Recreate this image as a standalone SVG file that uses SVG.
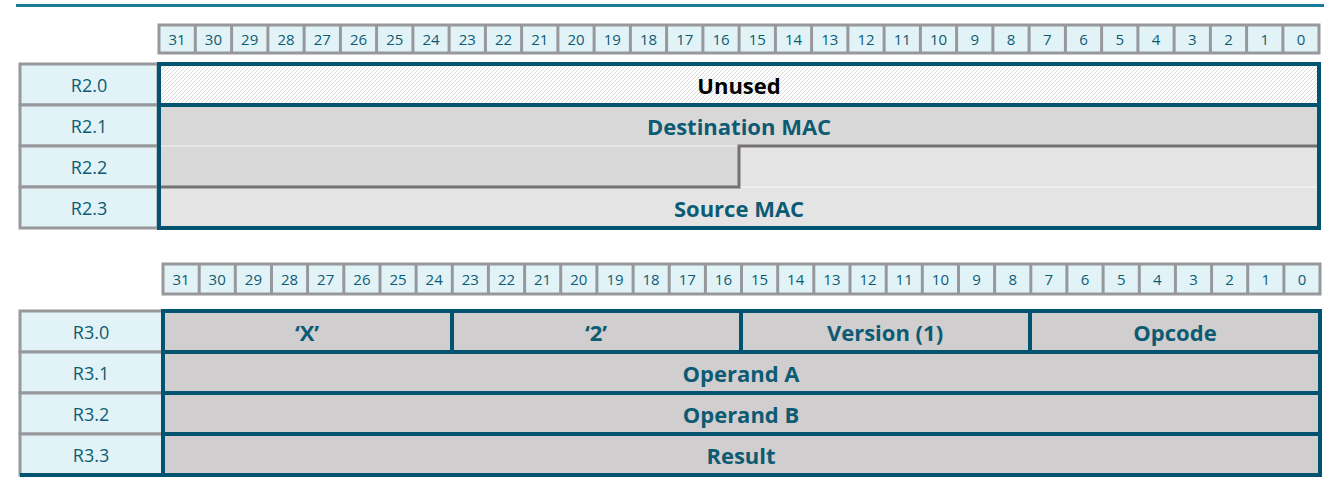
<svg xmlns="http://www.w3.org/2000/svg" width="1340" height="493" viewBox="0 0 1340 493">
<style>
.bit{fill:#e2f3f8;stroke:#97989b;stroke-width:3}
.bt{font-family:"Open Sans",sans-serif;font-size:15px;fill:#0d5b73;text-anchor:middle}
.lab{fill:#e2f3f8;stroke:#97989b;stroke-width:3}
.lt{font-family:"Open Sans",sans-serif;font-size:18px;fill:#0d5b73;text-anchor:middle}
.ft{font-family:"Open Sans",sans-serif;font-size:22px;font-weight:bold;fill:#0d5b73;text-anchor:middle}
.blue{fill:none;stroke:#005470;stroke-width:4}
</style>
<defs>
<pattern id="hatch" width="4" height="4" patternUnits="userSpaceOnUse">
<rect width="4" height="4" fill="#ffffff"/>
<path d="M0,4 L4,0 M-1,1 L1,-1 M3,5 L5,3" stroke="#cfcfcf" stroke-width="0.8"/>
</pattern>
</defs>
<line x1="16" y1="5.5" x2="1324" y2="5.5" stroke="#1a7a99" stroke-width="3"/>
<g id="header1">
<rect class="bit" x="159" y="25" width="1160" height="28"/>
<g id="h1cells"></g>
</g>
<g id="header1-text">
<g stroke="#97989b" stroke-width="3">
<path d="M195.3,25V53M231.6,25V53M267.9,25V53M304.1,25V53M340.4,25V53M376.6,25V53M412.9,25V53M449.1,25V53M485.4,25V53M521.6,25V53M557.9,25V53M594.1,25V53M630.4,25V53M666.6,25V53M702.9,25V53M739.1,25V53M775.4,25V53M811.6,25V53M847.9,25V53M884.1,25V53M920.4,25V53M956.6,25V53M992.9,25V53M1029.1,25V53M1065.4,25V53M1101.6,25V53M1137.9,25V53M1174.1,25V53M1210.4,25V53M1246.6,25V53M1282.9,25V53"/>
</g>
<g class="bt">
<text x="177.1" y="45">31</text><text x="213.4" y="45">30</text><text x="249.7" y="45">29</text><text x="286" y="45">28</text><text x="322.3" y="45">27</text><text x="358.5" y="45">26</text><text x="394.8" y="45">25</text><text x="431" y="45">24</text><text x="467.3" y="45">23</text><text x="503.5" y="45">22</text><text x="539.8" y="45">21</text><text x="576" y="45">20</text><text x="612.3" y="45">19</text><text x="648.5" y="45">18</text><text x="684.8" y="45">17</text><text x="721" y="45">16</text><text x="757.3" y="45">15</text><text x="793.5" y="45">14</text><text x="829.8" y="45">13</text><text x="866" y="45">12</text><text x="902.3" y="45">11</text><text x="938.5" y="45">10</text><text x="974.8" y="45">9</text><text x="1011" y="45">8</text><text x="1047.3" y="45">7</text><text x="1083.5" y="45">6</text><text x="1119.8" y="45">5</text><text x="1156" y="45">4</text><text x="1192.3" y="45">3</text><text x="1228.5" y="45">2</text><text x="1264.8" y="45">1</text><text x="1301" y="45">0</text>
</g>
</g>
<g id="R2-labels">
<rect class="lab" x="20" y="64" width="138" height="41"/>
<rect class="lab" x="20" y="105" width="138" height="41"/>
<rect class="lab" x="20" y="146" width="138" height="41"/>
<rect class="lab" x="20" y="187" width="138" height="41"/>
<text class="lt" x="89" y="92">R2.0</text>
<text class="lt" x="89" y="133">R2.1</text>
<text class="lt" x="89" y="174">R2.2</text>
<text class="lt" x="89" y="215">R2.3</text>
</g>
<g id="R2-fields">
<rect x="159" y="64" width="1160" height="41" fill="url(#hatch)"/>
<rect x="159" y="105" width="1160" height="41" fill="#d8d8d8"/>
<rect x="159" y="146" width="580" height="41" fill="#d8d8d8"/>
<rect x="739" y="146" width="580" height="41" fill="#e4e4e4"/>
<rect x="159" y="187" width="1160" height="41" fill="#e4e4e4"/>
<line x1="159" y1="146" x2="739" y2="146" stroke="#f0f0f0" stroke-width="1"/>
<line x1="739" y1="187" x2="1319" y2="187" stroke="#f8f8f8" stroke-width="1"/>
<path d="M159,187H739V146H1319" fill="none" stroke="#767171" stroke-width="3"/>
<line x1="159" y1="105" x2="1319" y2="105" stroke="#005470" stroke-width="4"/>
<rect class="blue" x="159" y="64" width="1160" height="164"/>
<text class="ft" x="739" y="94" fill="#000" style="fill:#000">Unused</text>
<text class="ft" x="739" y="135">Destination MAC</text>
<text class="ft" x="739" y="217">Source MAC</text>
</g>
<g id="header2">
<rect class="bit" x="163" y="264" width="1157" height="30"/>
<g stroke="#97989b" stroke-width="3">
<path d="M199.2,264V294M235.3,264V294M271.5,264V294M307.6,264V294M343.8,264V294M380,264V294M416.1,264V294M452.3,264V294M488.4,264V294M524.6,264V294M560.7,264V294M596.9,264V294M633.1,264V294M669.2,264V294M705.4,264V294M741.5,264V294M777.7,264V294M813.8,264V294M850,264V294M886.2,264V294M922.3,264V294M958.5,264V294M994.6,264V294M1030.8,264V294M1066.9,264V294M1103.1,264V294M1139.3,264V294M1175.4,264V294M1211.6,264V294M1247.7,264V294M1283.9,264V294"/>
</g>
<g class="bt">
<text x="181.1" y="285">31</text><text x="217.2" y="285">30</text><text x="253.4" y="285">29</text><text x="289.5" y="285">28</text><text x="325.7" y="285">27</text><text x="361.9" y="285">26</text><text x="398" y="285">25</text><text x="434.2" y="285">24</text><text x="470.3" y="285">23</text><text x="506.5" y="285">22</text><text x="542.6" y="285">21</text><text x="578.8" y="285">20</text><text x="615" y="285">19</text><text x="651.1" y="285">18</text><text x="687.3" y="285">17</text><text x="723.4" y="285">16</text><text x="759.6" y="285">15</text><text x="795.7" y="285">14</text><text x="831.9" y="285">13</text><text x="868.1" y="285">12</text><text x="904.2" y="285">11</text><text x="940.4" y="285">10</text><text x="976.5" y="285">9</text><text x="1012.7" y="285">8</text><text x="1048.8" y="285">7</text><text x="1085" y="285">6</text><text x="1121.2" y="285">5</text><text x="1157.3" y="285">4</text><text x="1193.5" y="285">3</text><text x="1229.6" y="285">2</text><text x="1265.8" y="285">1</text><text x="1302" y="285">0</text>
</g>
</g>
<g id="R3-labels">
<rect class="lab" x="20" y="311" width="143" height="41"/>
<rect class="lab" x="20" y="352" width="143" height="41"/>
<rect class="lab" x="20" y="393" width="143" height="41"/>
<rect class="lab" x="20" y="434" width="143" height="41"/>
<text class="lt" x="91" y="339">R3.0</text>
<text class="lt" x="91" y="380">R3.1</text>
<text class="lt" x="91" y="421">R3.2</text>
<text class="lt" x="91" y="462">R3.3</text>
</g>
<g id="R3-fields">
<rect x="163" y="311" width="1157" height="164" fill="#d0cece"/>
<path d="M163,352H1320M163,393H1320M163,434H1320M452,311V352M741,311V352M1030,311V352" stroke="#005470" stroke-width="4" fill="none"/>
<rect class="blue" x="163" y="311" width="1157" height="164"/>
<line x1="20" y1="475" x2="163" y2="475" stroke="#005470" stroke-width="4"/>
<text class="ft" x="307" y="341">‘X’</text>
<text class="ft" x="596" y="341">‘2’</text>
<text class="ft" x="885" y="341">Version (1)</text>
<text class="ft" x="1175" y="341">Opcode</text>
<text class="ft" x="741" y="382">Operand A</text>
<text class="ft" x="741" y="423">Operand B</text>
<text class="ft" x="741" y="464">Result</text>
</g>
</svg>
